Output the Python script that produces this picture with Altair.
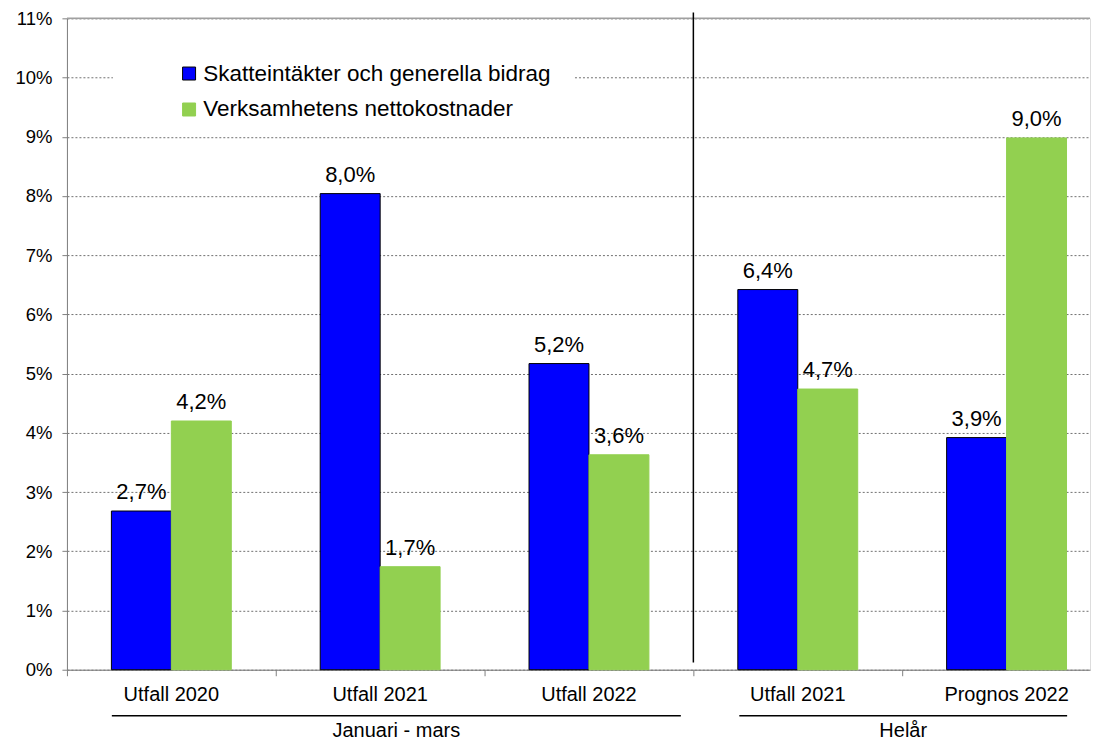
import altair as alt
import pandas as pd

# ---- data ----
categories = ["Utfall 2020", "Utfall 2021", "Utfall 2022", "Utfall 2021", "Prognos 2022"]
series = ["Skatteintäkter och generella bidrag", "Verksamhetens nettokostnader"]
skatt = [2.68, 8.04, 5.17, 6.42, 3.92]
netto = [4.20, 1.74, 3.63, 4.74, 8.98]
group_names = ["Januari - mars", "Helår"]
group_start = [0.215, 3.22]
group_end = [2.94, 4.79]
divider_at = [3]
y_ticks = list(range(0, 12))

# ---- layout ----
W, H = 1024, 652
STEP = 209.0          # px per category
BAR = 60.0 / STEP     # bar width in category units
BLUE, GREEN = "#0000FF", "#92D050"
FONT = "Liberation Sans"

rows = []
for i, cat in enumerate(categories):
    for s, vals in ((series[0], skatt), (series[1], netto)):
        v = vals[i]
        x0 = i + 0.5 - BAR if s == series[0] else i + 0.5
        rows.append({
            "category": cat, "series": s, "value": v, "zero": 0.0,
            "x0": x0, "x1": x0 + BAR, "xc": x0 + BAR / 2,
            "label": f"{v:.1f}".replace(".", ",") + "%",
        })
df = pd.DataFrame(rows)
cats = pd.DataFrame({"category": categories, "xc": [i + 0.5 for i in range(len(categories))]})
groups = pd.DataFrame({"name": group_names, "start": group_start, "end": group_end})
groups["mid"] = (groups["start"] + groups["end"]) / 2
div = pd.DataFrame({"x": divider_at, "y0": [0.12], "y1": [11.1]})
top = pd.DataFrame({"y": [11]})

xscale = alt.Scale(domain=[0, W / STEP], nice=False, zero=False)
yscale = alt.Scale(domain=[0, 11], nice=False)

xaxis = alt.Axis(values=[0, 1, 2, 3, 4], labels=False, title=None, grid=False,
                 tickSize=6, tickColor="#808080", domainColor="#808080")
yaxis = alt.Axis(values=y_ticks, labelExpr="datum.value + '%'", title=None,
                 grid=True, gridDash=[2, 2], gridColor="#707070", gridWidth=1,
                 tickSize=5, tickColor="#808080", domainColor="#808080",
                 labelPadding=10, labelFontSize=18.5, labelColor="black",
                 labelFont=FONT, minExtent=59, maxExtent=59)

legend = alt.Legend(title=None, orient="none", legendX=111, legendY=44,
                    symbolType="square", symbolSize=169, symbolStrokeWidth=1,
                    labelFontSize=22.5, labelFont=FONT, labelColor="black",
                    labelLimit=0, rowPadding=13, labelOffset=3, padding=0)

base = alt.Chart(df)

bars = base.mark_rect(strokeWidth=1).encode(
    x=alt.X("x0:Q", scale=xscale, axis=xaxis),
    x2="x1:Q",
    y=alt.Y("value:Q", scale=yscale, axis=yaxis),
    y2="zero:Q",
    fill=alt.Fill("series:N", scale=alt.Scale(domain=series, range=[BLUE, GREEN]), legend=legend),
    stroke=alt.Stroke("series:N", scale=alt.Scale(domain=series, range=["black", GREEN]), legend=legend),
)

labels = base.mark_text(dy=-12, fontSize=22, font=FONT, color="black", baseline="alphabetic").encode(
    x=alt.X("xc:Q", scale=xscale),
    y=alt.Y("value:Q", scale=yscale),
    text="label:N",
)

top_line = alt.Chart(top).mark_rule(color="#a0a0a0", strokeWidth=1.5).encode(
    y=alt.Y("y:Q", scale=yscale), x=alt.value(0), x2=alt.value(W)
)

divider = alt.Chart(div).mark_rule(color="black", strokeWidth=1.5).encode(
    x=alt.X("x:Q", scale=xscale), y=alt.Y("y0:Q", scale=yscale), y2="y1:Q"
)

legend_bg = alt.Chart(top).mark_rect(fill="white").encode(
    x=alt.value(46), x2=alt.value(508), y=alt.value(33), y2=alt.value(109)
)

cat_labels = alt.Chart(cats).mark_text(fontSize=20, font=FONT, color="black", baseline="alphabetic").encode(
    x=alt.X("xc:Q", scale=xscale), y=alt.value(H + 31), text="category:N"
)

group_lines = alt.Chart(groups).mark_rule(color="black", strokeWidth=1.5).encode(
    x=alt.X("start:Q", scale=xscale), x2="end:Q", y=alt.value(H + 46)
)

group_labels = alt.Chart(groups).mark_text(fontSize=20, font=FONT, color="black", baseline="alphabetic").encode(
    x=alt.X("mid:Q", scale=xscale), y=alt.value(H + 67), text="name:N"
)

chart = alt.layer(
    top_line, legend_bg, divider, bars, labels, cat_labels, group_lines, group_labels
).properties(
    width=W, height=H,
    padding={"left": 0, "top": 1, "right": 0, "bottom": 0},
).configure_view(stroke=None).configure(font=FONT)

chart.save("out.html", embed_options={"renderer": "svg", "actions": False})
